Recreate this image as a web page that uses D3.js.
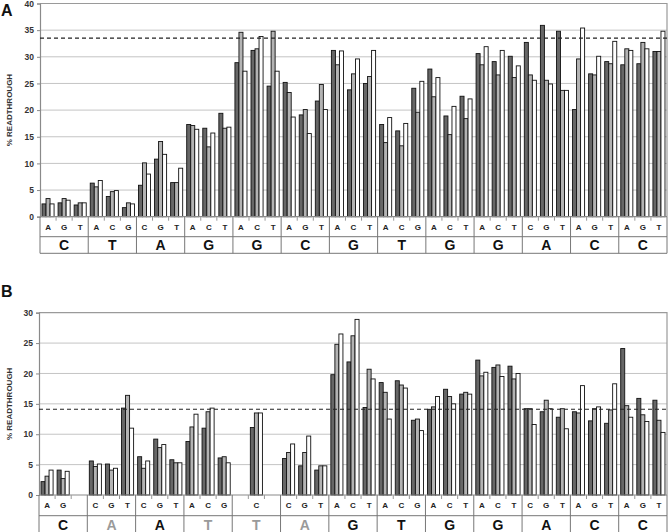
<!DOCTYPE html>
<html>
<head>
<meta charset="utf-8">
<script src="https://cdn.jsdelivr.net/npm/d3@7"></script>
<style>
  body { margin: 0; background: #fff; }
  svg { font-family: "Liberation Sans", Arial, sans-serif; }
</style>
</head>
<body>
<svg id="chart" width="669" height="532"></svg>
<script>
// panel A data
var posA = ["C","T","A","G","G","C","G","T","G","G","A","C","C"]
var subA = [["A","G","T"],["A","C","G"],["C","G","T"],["A","C","T"],["A","C","T"],["A","G","T"],["A","C","T"],
            ["A","C","G"],["A","C","T"],["A","C","T"],["C","G","T"],["A","G","T"],["A","G","T"]]
var darkA = [2.4,2.6,2.2, 6.3,3.8,1.7, 5.9,10.8,6.4, 17.3,16.6,19.4, 28.9,31.2,24.5, 25.2,19.1,21.7, 31.2,23.8,25.0,
             17.3,16.1,24.1, 27.7,18.9,22.6, 30.6,29.1,30.1, 32.7,35.9,34.8, 20.1,26.8,29.1, 28.5,28.7,31.0]
var lightA = [3.4,3.4,2.6, 5.6,4.7,2.6, 10.1,14.1,6.4, 17.1,13.1,16.6, 34.6,31.5,34.8, 23.3,20.1,24.8, 28.5,26.8,26.3,
              13.9,13.3,19.6, 22.5,15.4,18.4, 28.5,26.6,26.1, 26.6,25.6,23.7, 29.6,26.6,28.7, 31.5,32.7,31.0]
var whiteA = [2.4,3.1,2.6, 6.8,4.9,2.4, 8.0,11.7,9.1, 16.4,15.7,16.8, 27.3,33.8,27.3, 18.7,15.6,20.1, 31.1,29.6,31.2,
              18.6,17.5,25.4, 26.1,20.7,22.1, 31.9,31.2,28.3, 25.6,24.9,23.7, 35.4,30.1,32.9, 31.2,31.5,34.8]
var refA = 33.5
var ticksA = [0,5,10,15,20,25,30,35,40]

// panel B data
var posB = ["C","A","A","T","T","A","G","T","G","G","A","C","C"]
var greyB = [false,true,false,true,true,true,false,false,false,false,false,false,false]
var subB = [["A","G",""],["C","G","T"],["C","G","T"],["A","C","G"],["","C",""],["C","G","T"],["A","C","T"],
            ["A","C","G"],["A","C","T"],["A","C","T"],["C","G","T"],["A","G","T"],["A","G","T"]]
var darkB = [2.2,4.1,null, 5.6,5.1,14.3, 6.3,9.2,5.8, 8.8,11.0,6.1, null,11.1,null, 6.0,4.8,4.1, 19.8,21.9,14.4,
             18.5,18.8,12.3, 14.1,17.4,16.6, 22.2,21.0,21.2, 14.2,13.7,12.8, 13.7,12.2,11.8, 24.1,15.9,15.6]
var lightB = [3.1,2.7,null, 4.7,4.1,16.4, 4.4,7.8,5.3, 11.2,13.7,6.3, null,13.5,null, 7.0,7.0,4.8, 24.8,26.2,20.7,
              16.9,18.1,12.5, 14.5,16.2,16.9, 19.6,21.4,19.1, 14.2,15.6,14.2, 13.5,14.2,14.0, 14.7,13.2,12.3]
var whiteB = [4.1,3.9,null, 5.1,4.4,11.0, 5.6,8.3,5.3, 13.3,14.3,5.3, null,13.5,null, 8.4,9.7,4.8, 26.5,28.9,19.1,
              12.5,17.6,10.6, 16.2,15.0,16.6, 20.2,19.5,20.0, 11.6,14.2,10.9, 18.0,14.5,18.3, 12.8,12.1,10.3]
var refB = 14.1
var ticksB = [0,5,10,15,20,25,30]

var fills = ["#676767", "#b3b3b3", "#ffffff"]

function drawPanel(svg, o) {
    var g = svg.append("g")
    var nSub = o.dark.length
    var x0 = d3.scaleBand().domain(d3.range(nSub)).range([o.left, o.right]).paddingInner(0.25).paddingOuter(0.125)
    var x1 = d3.scaleBand().domain([0, 1, 2]).range([0, x0.bandwidth()])
    var y = d3.scaleLinear().domain([0, o.ymax]).range([o.bottom, o.top])
    var step = x0.step()

    // gridlines
    g.selectAll(".grid").data(o.ticks.filter(t => t > 0 && t < o.ymax)).enter().append("line")
        .attr("x1", o.left).attr("x2", o.right)
        .attr("y1", d => y(d)).attr("y2", d => y(d))
        .attr("stroke", "#c4c4c4").attr("stroke-width", 1)

    // plot frame (top + right)
    g.append("path")
        .attr("d", "M" + o.left + "," + y(o.ymax) + "H" + o.right + "V" + o.bottom)
        .attr("fill", "none").attr("stroke", "#9a9a9a").attr("stroke-width", 1.2)

    // y axis
    var ax = g.append("g").attr("transform", "translate(" + o.left + ",0)")
        .call(d3.axisLeft(y).tickValues(o.ticks).tickSize(3).tickPadding(3))
    ax.select(".domain").attr("stroke", "#8a8a8a").attr("stroke-width", 1.2)
    ax.selectAll(".tick line").attr("stroke", "#8a8a8a")
    ax.selectAll("text").attr("font-size", 8.5).attr("font-weight", "bold").attr("fill", "#333")
        .attr("font-family", "'Liberation Sans', Arial, sans-serif")

    // bars
    var series = [o.dark, o.light, o.white]
    series.forEach(function (vals, s) {
        g.selectAll(".bar" + s).data(vals.map((v, i) => ({ v: v, i: i })).filter(d => d.v != null))
            .enter().append("rect")
            .attr("x", d => x0(d.i) + x1(s))
            .attr("y", d => y(d.v))
            .attr("width", x1.bandwidth())
            .attr("height", d => o.bottom - y(d.v))
            .attr("fill", fills[s])
            .attr("stroke", "#111").attr("stroke-width", 0.9)
    })

    // reference dashed line
    g.append("line")
        .attr("x1", o.left).attr("x2", o.right)
        .attr("y1", y(o.ref)).attr("y2", y(o.ref))
        .attr("stroke", "#222").attr("stroke-width", 1.1).attr("stroke-dasharray", "4,3")

    // table below axis
    var lineCol = "#777"
    var r1 = o.bottom, r2 = o.bottom + o.rowH1, r3 = r2 + o.rowH2
    g.append("line").attr("x1", o.left).attr("x2", o.right).attr("y1", r1).attr("y2", r1)
        .attr("stroke", "#8a8a8a").attr("stroke-width", 1.2)
    g.append("line").attr("x1", o.left).attr("x2", o.right).attr("y1", r2).attr("y2", r2)
        .attr("stroke", lineCol).attr("stroke-width", 1)
    g.append("line").attr("x1", o.left).attr("x2", o.right).attr("y1", r3).attr("y2", r3)
        .attr("stroke", lineCol).attr("stroke-width", 1)
    // position boundaries
    g.selectAll(".pdiv").data(d3.range(o.pos.length + 1)).enter().append("line")
        .attr("x1", d => o.left + d * 3 * step).attr("x2", d => o.left + d * 3 * step)
        .attr("y1", r1).attr("y2", r3)
        .attr("stroke", lineCol).attr("stroke-width", 1)
    // small ticks between sub cells
    g.selectAll(".sdiv").data(d3.range(nSub).filter(i => i % 3 != 0)).enter().append("line")
        .attr("x1", d => o.left + d * step).attr("x2", d => o.left + d * step)
        .attr("y1", r1).attr("y2", r1 + 4)
        .attr("stroke", "#999").attr("stroke-width", 1)

    // sub labels
    var subs = o.subs.flat()
    g.selectAll(".slab").data(subs).enter().append("text")
        .attr("x", (d, i) => x0(i) + x0.bandwidth() / 2)
        .attr("y", r1 + o.rowH1 / 2 + 3)
        .attr("text-anchor", "middle")
        .attr("font-size", 8).attr("font-weight", "bold").attr("fill", "#222")
        .text(d => d)

    // position labels
    g.selectAll(".plab").data(o.pos).enter().append("text")
        .attr("x", (d, i) => o.left + (i * 3 + 1.5) * step)
        .attr("y", r2 + o.rowH2 / 2 + 5)
        .attr("text-anchor", "middle")
        .attr("font-size", 14).attr("font-weight", "bold")
        .attr("fill", (d, i) => o.grey && o.grey[i] ? "#9a9a9a" : "#111")
        .text(d => d)

    // y title
    g.append("text")
        .attr("transform", "translate(" + o.titleX + "," + ((o.top + o.bottom) / 2) + ") rotate(-90)")
        .attr("text-anchor", "middle")
        .attr("font-size", 8).attr("font-weight", "bold").attr("fill", "#333")
        .text("% READTHROUGH")

    // panel letter
    g.append("text").attr("x", 1).attr("y", o.letterY)
        .attr("font-size", 16).attr("font-weight", "bold").attr("fill", "#111")
        .text(o.letter)
}

var svg = d3.select("#chart")

drawPanel(svg, {
    letter: "A", letterY: 16, titleX: 12,
    left: 40, right: 667, top: 3.5, bottom: 216.7, ymax: 40, ticks: ticksA,
    rowH1: 20, rowH2: 16.6,
    dark: darkA, light: lightA, white: whiteA, ref: refA,
    pos: posA, subs: subA
})

drawPanel(svg, {
    letter: "B", letterY: 297, titleX: 12,
    left: 39, right: 667, top: 312.7, bottom: 495, ymax: 30, ticks: ticksB,
    rowH1: 20.7, rowH2: 18,
    dark: darkB, light: lightB, white: whiteB, ref: refB,
    pos: posB, subs: subB, grey: greyB
})
</script>
</body>
</html>
